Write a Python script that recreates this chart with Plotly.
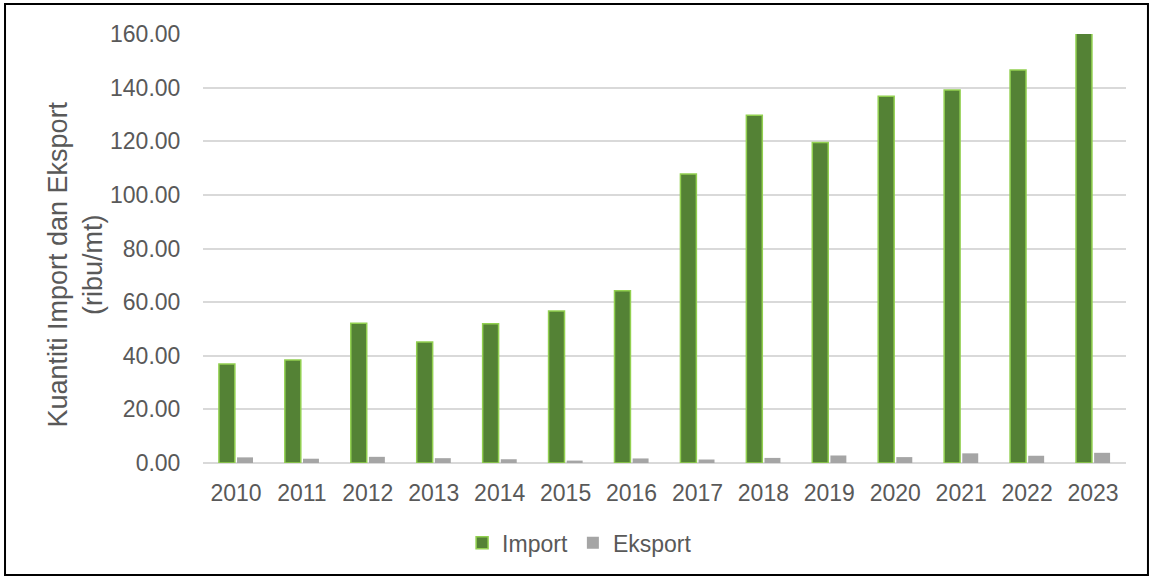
import plotly.graph_objects as go

years = [str(y) for y in range(2010, 2024)]
import_qty = [36.9, 38.4, 52.1, 45.1, 51.9, 56.7, 64.2, 107.8, 129.7, 119.5, 136.8, 139.1, 146.6, 160.3]
eksport_qty = [2.1, 1.6, 2.3, 1.8, 1.4, 0.9, 1.7, 1.3, 1.9, 2.8, 2.2, 3.6, 2.7, 3.8]

TXT = "#595959"
FONT = "Liberation Sans, Arial"

fig = go.Figure()
fig.add_trace(go.Bar(
    x=years, y=import_qty, name="Import",
    marker=dict(color="#548235", line=dict(color="#92D050", width=1.5)),
))
fig.add_trace(go.Bar(
    x=years, y=eksport_qty, name="Eksport",
    marker=dict(color="#A5A5A5", line=dict(width=0)),
))

# outer frame around the whole chart
fig.add_shape(type="rect", xref="paper", yref="paper",
              x0=-0.2145, x1=1.0238, y0=-0.261, y1=1.07,
              line=dict(color="black", width=2), fillcolor="rgba(0,0,0,0)")

# y title as annotation (Excel centres it a bit lower than the plot middle)
fig.add_annotation(text="Kuantiti Import dan Eksport<br>(ribu/mt)",
                   xref="paper", yref="paper", x=-0.1392, y=0.4615,
                   xanchor="center", yanchor="middle",
                   textangle=-90, showarrow=False,
                   font=dict(size=27, color=TXT, family=FONT))

fig.update_layout(
    width=1153, height=577,
    margin=dict(l=203, r=27, t=34, b=114),
    paper_bgcolor="white", plot_bgcolor="white",
    font=dict(family=FONT, color=TXT, size=23),
    barmode="group", bargap=0.45, bargroupgap=0.12,
    xaxis=dict(showgrid=False, showline=False, ticks="outside", ticklen=9,
               tickcolor="rgba(0,0,0,0)",
               tickfont=dict(size=23, color=TXT)),
    yaxis=dict(range=[0, 160], dtick=20, tickformat=".2f",
               showgrid=True, gridcolor="#D9D9D9", gridwidth=1.5,
               zeroline=True, zerolinecolor="#D9D9D9", zerolinewidth=1.5,
               ticks="outside", ticklen=17, tickcolor="rgba(0,0,0,0)",
               tickfont=dict(size=23, color=TXT)),
    legend=dict(orientation="h", x=0.408, xanchor="center", y=-0.186, yanchor="middle",
                font=dict(size=23, color=TXT), itemwidth=30, traceorder="normal"),
)

fig.write_html("out.html", config={"displayModeBar": False},
               post_script="document.body.style.margin='0';")
